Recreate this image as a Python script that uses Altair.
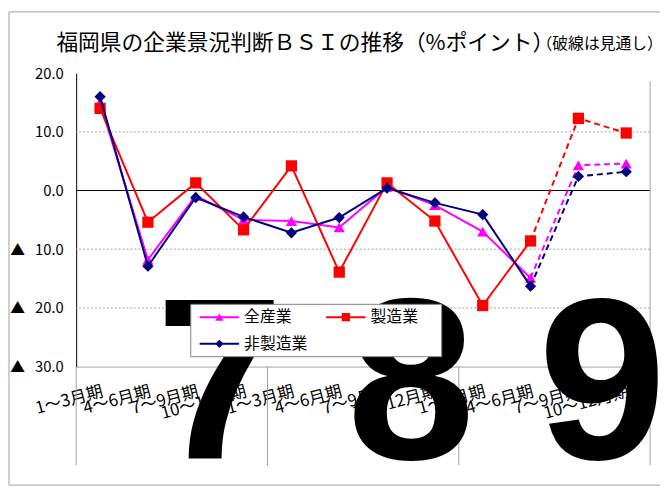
import json
import altair as alt
import pandas as pd

# ---------------- data ----------------
quarters = ["1～3月期", "4～6月期", "7～9月期", "10～12月期"]
n_years = 3
series = ["全産業", "製造業", "非製造業"]
all_ind = [15.0, -11.8, -0.9, -5.0, -5.2, -6.3, 0.6, -2.5, -7.0, -14.9, 4.3, 4.6]
manuf = [14.0, -5.4, 1.3, -6.7, 4.2, -13.9, 1.3, -5.2, -19.6, -8.6, 12.3, 9.8]
nonmanuf = [16.0, -12.9, -1.2, -4.5, -7.2, -4.6, 0.4, -2.1, -4.1, -16.3, 2.4, 3.2]
year_marks = ["7", "8", "9"]
forecast_from = 9          # dashed (見通し) from this index on
y_ticks = [20, 10, 0, -10, -20, -30]
grid_vals = [10, -10, -20]
title_main = "福岡県の企業景況判断ＢＳＩの推移（%ポイント）"
title_sub = "（破線は見通し）"
neg_prefix = "▲\u00a0\u00a0\u00a0"

values = [all_ind, manuf, nonmanuf]
colors = ["#FF00FF", "#FF0000", "#000080"]
shapes = ["triangle-up", "square", "diamond"]

n_cat = len(quarters) * n_years
cat_labels = [quarters[i % len(quarters)] for i in range(n_cat)]

W, H = 581, 297
step = W / n_cat
JP = "Noto Sans CJK JP"
GRAY = "#a0a0a0"

X = alt.X(
    "idx:O",
    scale=alt.Scale(type="point", padding=0.5),
    axis=alt.Axis(
        labelExpr=json.dumps(cat_labels, ensure_ascii=False) + "[datum.value]",
        labelAngle=345, labelAlign="right", labelBaseline="top",
        labelPadding=17, ticks=False, domainColor=GRAY, labelFontSize=17,
        labelFont=JP, labelColor="black", title=None, grid=False,
        labelOverlap=False,
    ),
)
Y = alt.Y(
    "v:Q",
    scale=alt.Scale(domain=[-30, 20], nice=False, zero=False),
    axis=alt.Axis(
        values=y_ticks,
        labelExpr="datum.value < 0 ? '" + neg_prefix + "' + format(-datum.value, '.1f') : format(datum.value, '.1f')",
        ticks=False, domainColor="black", labelFontSize=15, labelFont=JP,
        labelColor="black", labelPadding=13, grid=False, title=None,
    ),
)

layers = []

# outer frame
frame = alt.Chart(pd.DataFrame({"a": [0]})).mark_rect(
    fill="transparent", stroke=GRAY, strokeWidth=1
).encode(x=alt.value(-68), x2=alt.value(620), y=alt.value(-62), y2=alt.value(417))
layers.append(frame)

# grid lines
grid = alt.Chart(pd.DataFrame({"v": grid_vals})).mark_rule(
    color=GRAY, strokeWidth=1, strokeDash=[2, 2]
).encode(y=Y)
layers.append(grid)
zero = alt.Chart(pd.DataFrame({"v": [0]})).mark_rule(color="black", strokeWidth=1).encode(y=Y)
layers.append(zero)

# right border and year separators
layers.append(alt.Chart(pd.DataFrame({"a": [0]})).mark_rule(color=GRAY, strokeWidth=1).encode(
    x=alt.value(W), y=alt.value(8), y2=alt.value(397)))
for k in range(n_years):
    layers.append(alt.Chart(pd.DataFrame({"a": [0]})).mark_rule(color=GRAY, strokeWidth=1).encode(
        x=alt.value(k * len(quarters) * step), y=alt.value(H), y2=alt.value(397)))

# series
for name, vals, c, sh in zip(series, values, colors, shapes):
    df = pd.DataFrame({"idx": list(range(n_cat)), "v": vals, "s": name})
    base = alt.Chart(df)
    layers.append(base.transform_filter(alt.datum.idx <= forecast_from).mark_line(
        color=c, strokeWidth=2).encode(x=X, y=Y))
    layers.append(base.transform_filter(alt.datum.idx >= forecast_from).mark_line(
        color=c, strokeWidth=2, strokeDash=[6, 4]).encode(x=X, y=Y))
    layers.append(base.mark_point(shape=sh, filled=True, color=c, size=130, opacity=1).encode(x=X, y=Y))

# big year digits
for k, d in enumerate(year_marks):
    layers.append(alt.Chart(pd.DataFrame({"t": [d]})).mark_text(
        font="Liberation Sans", fontWeight="bold", fontSize=233, align="center",
        baseline="alphabetic", color="black"
    ).encode(x=alt.value((3 + k * len(quarters)) * step), y=alt.value(391), text="t:N"))

# legend (manual)
lx, ly = 116, 234
layers.append(alt.Chart(pd.DataFrame({"a": [0]})).mark_rect(
    fill="white", stroke="#808080", strokeWidth=1
).encode(x=alt.value(lx), x2=alt.value(370), y=alt.value(ly), y2=alt.value(287)))
col_off = [0, 128]
row_y = [247, 274]
for i, (name, c, sh) in enumerate(zip(series, colors, shapes)):
    cx = lx + 9 + col_off[i % 2]
    cy = row_y[i // 2]
    one = alt.Chart(pd.DataFrame({"t": [name]}))
    layers.append(one.mark_rule(color=c, strokeWidth=2).encode(
        x=alt.value(cx), x2=alt.value(cx + 40), y=alt.value(cy)))
    layers.append(one.mark_point(shape=sh, filled=True, color=c, size=70, opacity=1).encode(
        x=alt.value(cx + 20), y=alt.value(cy)))
    layers.append(one.mark_text(font=JP, fontSize=16, align="left", baseline="middle",
                                color="black").encode(
        x=alt.value(cx + 45), y=alt.value(cy), text="t:N"))

# titles
layers.append(alt.Chart(pd.DataFrame({"t": [title_main]})).mark_text(
    font=JP, fontSize=22, align="left", baseline="middle", color="black"
).encode(x=alt.value(-20), y=alt.value(-30), text="t:N"))
layers.append(alt.Chart(pd.DataFrame({"t": [title_sub]})).mark_text(
    font=JP, fontSize=16, align="left", baseline="middle", color="black"
).encode(x=alt.value(466), y=alt.value(-29), text="t:N"))

chart = alt.layer(*layers).properties(
    width=W, height=H,
    padding={"left": 69, "top": 63, "right": 10, "bottom": 122},
    autosize=alt.AutoSizeParams(type="none"),
    background="white",
).configure_view(stroke=None)

chart.save("out.html", embed_options={"renderer": "svg", "actions": False})
